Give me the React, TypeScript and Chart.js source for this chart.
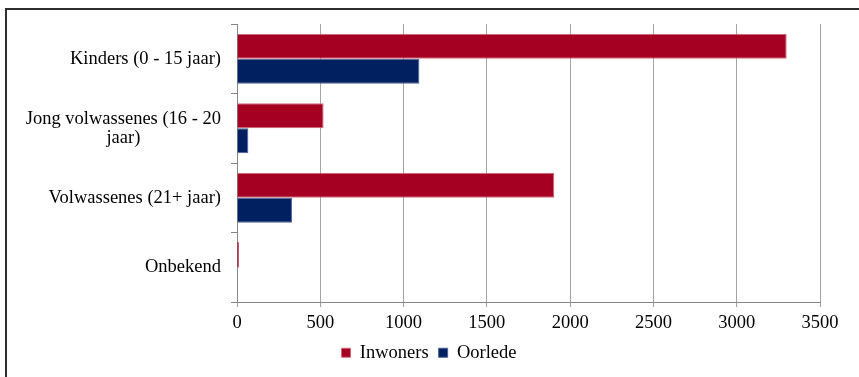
import React, { useEffect, useRef } from "react";
import { Chart, registerables } from "chart.js";

Chart.register(...registerables);

const categories: (string | string[])[] = [
  "Kinders (0 - 15 jaar)",
  ["Jong volwassenes (16 - 20", "jaar)"],
  "Volwassenes (21+ jaar)",
  "Onbekend",
];
const inwoners = [3300, 520, 1905, 10];
const oorlede = [1095, 68, 330, 0];
const seriesNames = ["Inwoners", "Oorlede"];
const xMin = 0;
const xMax = 3500;
const xStep = 500;

const FONT = "'Liberation Serif', 'Times New Roman', serif";
const FONT_SIZE = 18.5;

const framePlugin = {
  id: "frame",
  afterLayout(chart: any) {
    if (chart.legend) {
      chart.legend.left += 19;
      chart.legend.right += 19;
    }
  },
  afterDraw(chart: any) {
    const ctx = chart.ctx;
    ctx.save();
    const yScale = chart.scales.y;
    ctx.font = `${FONT_SIZE}px ${FONT}`;
    ctx.fillStyle = "#000";
    ctx.textBaseline = "middle";
    ctx.textAlign = "center";
    const right = yScale.right - 6 - 10;
    categories.forEach((lab, i) => {
      const lines = Array.isArray(lab) ? lab : [lab];
      const yc = yScale.getPixelForValue(i);
      const maxW = Math.max(...lines.map((l) => ctx.measureText(l).width));
      lines.forEach((l, j) => {
        const y = yc + (j - (lines.length - 1) / 2) * 19;
        ctx.fillText(l, right - maxW / 2, y);
      });
    });
    ctx.fillStyle = "#2e2e2e";
    ctx.fillRect(5, 8, chart.width - 5, 2);
    ctx.fillRect(5, 8, 2, chart.height - 8);
    ctx.restore();
  },
};

const bw = (c: any) => {
  const v = c.raw as number;
  return typeof v === "number" && v < 50 ? 0 : 1;
};

export default function App() {
  const ref = useRef<HTMLCanvasElement>(null);
  useEffect(() => {
    if (!ref.current) return;
    const chart = new Chart(ref.current, {
      type: "bar",
      data: {
        labels: categories as any,
        datasets: [
          {
            label: seriesNames[0],
            data: inwoners,
            backgroundColor: "#A50021",
            borderColor: "#D06A7A",
            borderWidth: bw as any,
            categoryPercentage: 0.72,
            barPercentage: 1,
          },
          {
            label: seriesNames[1],
            data: oorlede,
            backgroundColor: "#002060",
            borderColor: "#4A5F95",
            borderWidth: bw as any,
            categoryPercentage: 0.72,
            barPercentage: 1,
          },
        ],
      },
      options: {
        indexAxis: "y",
        responsive: false,
        animation: false,
        layout: { padding: { left: 0, right: 39, top: 24, bottom: 5 } },
        plugins: {
          tooltip: { enabled: false },
          legend: {
            position: "bottom",
            labels: {
              font: { family: FONT, size: FONT_SIZE },
              color: "#000",
              boxWidth: 9,
              boxHeight: 9,
              padding: 10,
            },
          },
        },
        scales: {
          x: {
            min: xMin,
            max: xMax,
            ticks: {
              stepSize: xStep,
              color: "#000",
              font: { family: FONT, size: FONT_SIZE },
              padding: 5,
              maxRotation: 0,
              callback: (v: any) => String(v),
            },
            grid: {
              color: "#a3a3a3",
              lineWidth: 1,
              tickLength: 5,
              drawTicks: true,
            },
            border: { color: "#868686", width: 1 },
            afterFit: (s: any) => {
              s.height = 31.5;
            },
          },
          y: {
            ticks: { display: false },
            grid: {
              drawOnChartArea: false,
              drawTicks: true,
              tickLength: 6,
              color: "#868686",
              offset: true,
            },
            border: { color: "#868686", width: 1 },
            afterFit: (s: any) => {
              s.width = 237;
            },
          },
        },
      },
      plugins: [framePlugin],
    });
    return () => chart.destroy();
  }, []);
  return (
    <div style={{ position: "fixed", left: 0, top: 0, width: 859, height: 377, background: "#fff" }}>
      <canvas ref={ref} width={859} height={377} style={{ width: 859, height: 377, display: "block" }} />
    </div>
  );
}
